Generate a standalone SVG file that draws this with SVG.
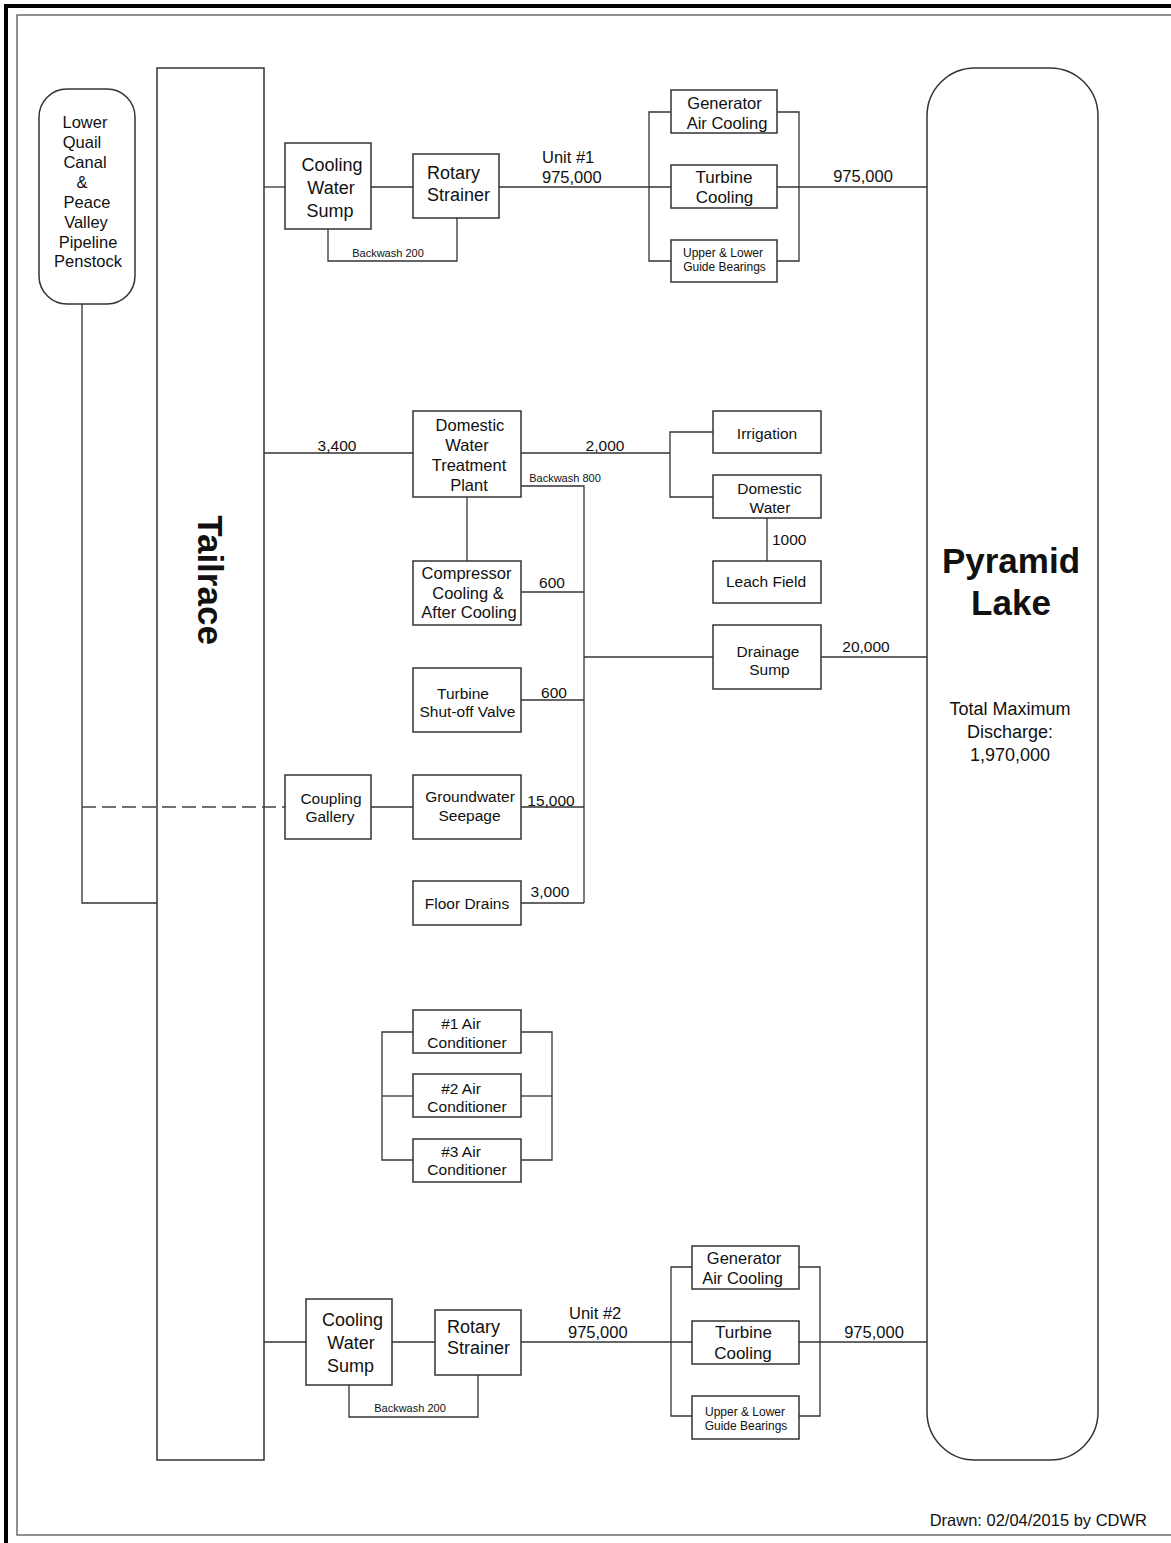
<svg xmlns="http://www.w3.org/2000/svg" width="1171" height="1543" viewBox="0 0 1171 1543">
<style>
.box{fill:#fff;stroke:#333;stroke-width:1.5}
.open{fill:none;stroke:#333;stroke-width:1.5}
.ln{fill:none;stroke:#333;stroke-width:1.3}
.dash{fill:none;stroke:#444;stroke-width:1.3;stroke-dasharray:14 6}
text{font-family:"Liberation Sans",Arial,sans-serif;fill:#111;text-anchor:middle}
.t18{font-size:18px}
.t17{font-size:17px}
.t165{font-size:16.5px}
.t155{font-size:15.5px}
.t12{font-size:12px}
.t11{font-size:11px}
.big{font-size:35px;font-weight:bold}
.st{text-anchor:start}
.end{text-anchor:end}
</style>
<rect x="0" y="0" width="1171" height="1543" fill="#fff"/>
<g id="frame">
<rect x="6" y="6" width="1180" height="1560" fill="none" stroke="#000" stroke-width="4"/>
<rect x="17" y="15" width="1170" height="1520" fill="none" stroke="#555" stroke-width="1.3"/>
</g>
<g id="tailrace">
<rect class="open" x="157" y="68" width="107" height="1392"/>
<text class="big" transform="translate(210,580) rotate(90)" x="0" y="12">Tailrace</text>
</g>
<g id="connectors">
<path class="ln" d="M264,187 H285"/>
<path class="ln" d="M371,187 H413"/>
<path class="ln" d="M328,229 V261 H457 V218"/>
<path class="ln" d="M499,187 H671"/>
<path class="ln" d="M671,112 H649 V261 H671"/>
<path class="ln" d="M777,112 H799 V261 H777"/>
<path class="ln" d="M777,187 H927"/>
<path class="ln" d="M264,1342 H306"/>
<path class="ln" d="M392,1342 H435"/>
<path class="ln" d="M349,1385 V1417 H478 V1375"/>
<path class="ln" d="M521,1342 H692"/>
<path class="ln" d="M692,1267 H671 V1416 H692"/>
<path class="ln" d="M799,1267 H820 V1416 H799"/>
<path class="ln" d="M799,1342 H927"/>
<path class="ln" d="M264,453 H413"/>
<path class="ln" d="M521,453 H670"/>
<path class="ln" d="M713,432 H670 V497 H713"/>
<path class="ln" d="M521,486 H584 V903"/>
<path class="ln" d="M467,497 V561"/>
<path class="ln" d="M521,592 H584"/>
<path class="ln" d="M584,657 H713"/>
<path class="ln" d="M821,657 H927"/>
<path class="ln" d="M521,700 H584"/>
<path class="ln" d="M521,807 H584"/>
<path class="ln" d="M521,903 H584"/>
<path class="ln" d="M371,807 H413"/>
<path class="ln" d="M767,518 V561"/>
<path class="ln" d="M82,304 V903 H157"/>
<path class="dash" d="M82,807 H285"/>
<path class="ln" d="M413,1032 H382 V1160 H413"/>
<path class="ln" d="M382,1096 H413"/>
<path class="ln" d="M521,1032 H552 V1160 H521"/>
<path class="ln" d="M521,1096 H552"/>
<text class="t165 st" x="542" y="163">Unit #1</text>
<text class="t165 st" x="542" y="183">975,000</text>
<text class="t165" x="863" y="182">975,000</text>
<text class="t11" x="388" y="257">Backwash 200</text>
<text class="t165 st" x="569" y="1319">Unit #2</text>
<text class="t165 st" x="568" y="1338">975,000</text>
<text class="t165" x="874" y="1338">975,000</text>
<text class="t11" x="410" y="1412">Backwash 200</text>
<text class="t155" x="337" y="451">3,400</text>
<text class="t155" x="605" y="451">2,000</text>
<text class="t11" x="565" y="482">Backwash 800</text>
<text class="t155" x="552" y="588">600</text>
<text class="t155" x="554" y="698">600</text>
<text class="t155" x="551" y="806">15,000</text>
<text class="t155" x="550" y="897">3,000</text>
<text class="t155 st" x="772" y="544.5">1000</text>
<text class="t155" x="866" y="652">20,000</text>
</g>
<g id="pyramid-lake">
<rect class="box" x="927" y="68" width="171" height="1392" rx="48" ry="48"/>
<text class="big" x="1011" y="573">Pyramid</text>
<text class="big" x="1011" y="615">Lake</text>
<text class="t18" x="1010" y="715">Total Maximum</text>
<text class="t18" x="1010" y="738">Discharge:</text>
<text class="t18" x="1010" y="761">1,970,000</text>
</g>
<g id="lower-quail">
<rect class="box" x="39" y="89" width="96" height="215" rx="28" ry="28"/>
<text class="t165" x="85" y="128">Lower</text>
<text class="t165" x="82" y="148">Quail</text>
<text class="t165" x="85" y="168">Canal</text>
<text class="t165" x="82" y="188">&amp;</text>
<text class="t165" x="87" y="208">Peace</text>
<text class="t165" x="86" y="228">Valley</text>
<text class="t165" x="88" y="248">Pipeline</text>
<text class="t165" x="88" y="267">Penstock</text>
</g>
<g id="cooling-water-sump-1">
<rect class="box" x="285" y="143" width="86" height="86"/>
<text class="t18" x="332" y="171">Cooling</text>
<text class="t18" x="331" y="194">Water</text>
<text class="t18" x="330" y="217">Sump</text>
</g>
<g id="rotary-strainer-1">
<rect class="box" x="413" y="154" width="86" height="64"/>
<text class="t18 st" x="427" y="179">Rotary</text>
<text class="t18 st" x="427" y="201">Strainer</text>
</g>
<g id="generator-air-cooling-1">
<rect class="box" x="671" y="90" width="106" height="43"/>
<text class="t165" x="724.5" y="109">Generator</text>
<text class="t165" x="727" y="129">Air Cooling</text>
</g>
<g id="turbine-cooling-1">
<rect class="box" x="671" y="165" width="106" height="43"/>
<text class="t17" x="724" y="183">Turbine</text>
<text class="t17" x="724.5" y="203">Cooling</text>
</g>
<g id="guide-bearings-1">
<rect class="box" x="671" y="240" width="106" height="42"/>
<text class="t12" x="723" y="257">Upper &amp; Lower</text>
<text class="t12" x="724.5" y="271">Guide Bearings</text>
</g>
<g id="dwtp">
<rect class="box" x="413" y="411" width="108" height="86"/>
<text class="t165" x="470" y="431">Domestic</text>
<text class="t165" x="467" y="451">Water</text>
<text class="t165" x="469" y="471">Treatment</text>
<text class="t165" x="469" y="491">Plant</text>
</g>
<g id="compressor">
<rect class="box" x="413" y="561" width="108" height="64"/>
<text class="t165" x="466.5" y="579">Compressor</text>
<text class="t165" x="468" y="599">Cooling &amp;</text>
<text class="t165" x="469" y="618">After Cooling</text>
</g>
<g id="irrigation">
<rect class="box" x="713" y="411" width="108" height="42"/>
<text class="t155" x="767" y="439">Irrigation</text>
</g>
<g id="domestic-water">
<rect class="box" x="713" y="475" width="108" height="43"/>
<text class="t155" x="769.5" y="494">Domestic</text>
<text class="t155" x="770" y="512.5">Water</text>
</g>
<g id="leach-field">
<rect class="box" x="713" y="561" width="108" height="42"/>
<text class="t155" x="766" y="587">Leach Field</text>
</g>
<g id="drainage-sump">
<rect class="box" x="713" y="625" width="108" height="64"/>
<text class="t155" x="768" y="657">Drainage</text>
<text class="t155" x="769.5" y="675">Sump</text>
</g>
<g id="turbine-shutoff-valve">
<rect class="box" x="413" y="668" width="108" height="64"/>
<text class="t155" x="463" y="698.5">Turbine</text>
<text class="t155" x="467.5" y="717">Shut-off Valve</text>
</g>
<g id="coupling-gallery">
<rect class="box" x="285" y="775" width="86" height="64"/>
<text class="t155" x="331" y="804">Coupling</text>
<text class="t155" x="330" y="822">Gallery</text>
</g>
<g id="groundwater-seepage">
<rect class="box" x="413" y="775" width="108" height="64"/>
<text class="t155" x="470" y="802">Groundwater</text>
<text class="t155" x="469.5" y="821">Seepage</text>
</g>
<g id="floor-drains">
<rect class="box" x="413" y="881" width="108" height="44"/>
<text class="t155" x="467" y="908.5">Floor Drains</text>
</g>
<g id="air-conditioner-1">
<rect class="box" x="413" y="1010" width="108" height="43"/>
<text class="t155" x="461" y="1029">#1 Air</text>
<text class="t155" x="467" y="1048">Conditioner</text>
</g>
<g id="air-conditioner-2">
<rect class="box" x="413" y="1074" width="108" height="43"/>
<text class="t155" x="461" y="1094">#2 Air</text>
<text class="t155" x="467" y="1112">Conditioner</text>
</g>
<g id="air-conditioner-3">
<rect class="box" x="413" y="1139" width="108" height="43"/>
<text class="t155" x="461" y="1157">#3 Air</text>
<text class="t155" x="467" y="1175">Conditioner</text>
</g>
<g id="cooling-water-sump-2">
<rect class="box" x="306" y="1299" width="86" height="86"/>
<text class="t18" x="352.5" y="1326">Cooling</text>
<text class="t18" x="351" y="1349">Water</text>
<text class="t18" x="350.5" y="1372">Sump</text>
</g>
<g id="rotary-strainer-2">
<rect class="box" x="435" y="1310" width="86" height="65"/>
<text class="t18 st" x="447" y="1333">Rotary</text>
<text class="t18 st" x="447" y="1354">Strainer</text>
</g>
<g id="generator-air-cooling-2">
<rect class="box" x="692" y="1246" width="107" height="43"/>
<text class="t165" x="744" y="1264">Generator</text>
<text class="t165" x="742.5" y="1284">Air Cooling</text>
</g>
<g id="turbine-cooling-2">
<rect class="box" x="692" y="1321" width="107" height="43"/>
<text class="t17" x="743.5" y="1338">Turbine</text>
<text class="t17" x="743" y="1359">Cooling</text>
</g>
<g id="guide-bearings-2">
<rect class="box" x="692" y="1396" width="107" height="43"/>
<text class="t12" x="745" y="1416">Upper &amp; Lower</text>
<text class="t12" x="746" y="1430">Guide Bearings</text>
</g>
<g id="credit">
<text class="t165 end" x="1147" y="1526">Drawn: 02/04/2015 by CDWR</text>
</g>
</svg>
